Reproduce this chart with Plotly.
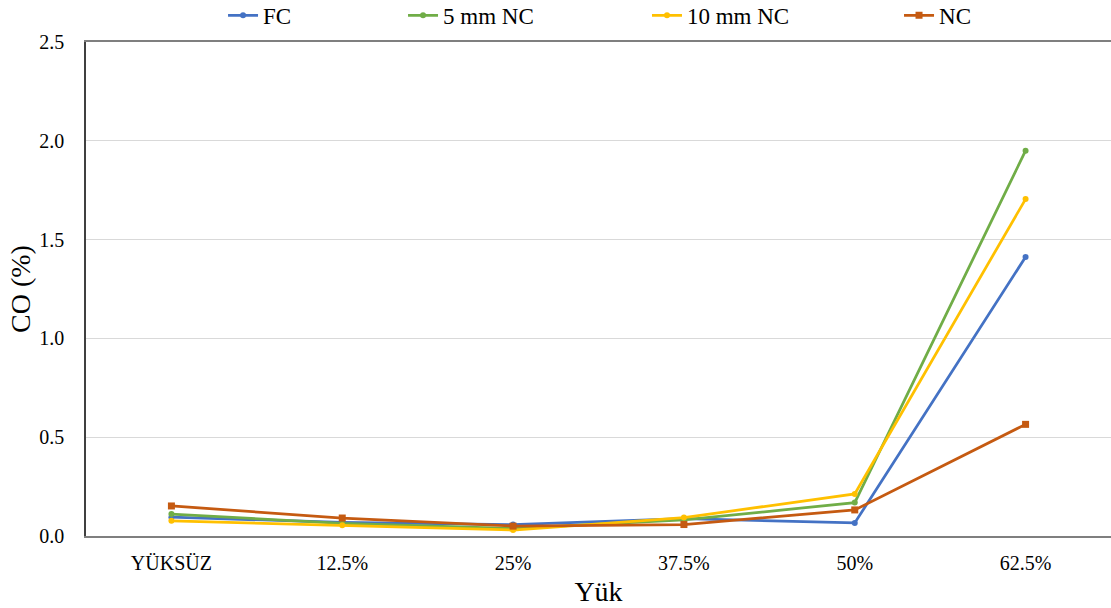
import plotly.graph_objects as go

categories = ["YÜKSÜZ", "12.5%", "25%", "37.5%", "50%", "62.5%"]
fc = [0.095, 0.069, 0.058, 0.088, 0.066, 1.412]
nc5 = [0.111, 0.064, 0.038, 0.081, 0.169, 1.950]
nc10 = [0.077, 0.054, 0.030, 0.093, 0.213, 1.705]
nc = [0.152, 0.091, 0.050, 0.058, 0.132, 0.565]

series = [
    ("FC", fc, "#4472C4", "circle", 6, "legend"),
    ("5 mm NC", nc5, "#70AD47", "circle", 6, "legend2"),
    ("10 mm NC", nc10, "#FFC000", "circle", 6, "legend3"),
    ("NC", nc, "#C55A11", "square", 7, "legend4"),
]

FONT = "Liberation Serif"

fig = go.Figure()
for name, vals, color, sym, msize, lg in series:
    fig.add_trace(go.Scatter(
        x=categories, y=vals, name=name, mode="lines+markers",
        line=dict(color=color, width=2.75),
        marker=dict(symbol=sym, size=msize, color=color),
        legend=lg, showlegend=True,
    ))


def leg(x):
    return dict(orientation="h", yanchor="middle", y=1.054, xanchor="left", x=x,
                font=dict(family=FONT, size=23, color="#000000"),
                bgcolor="rgba(0,0,0,0)", borderwidth=0, visible=True)


fig.update_layout(
    width=1111, height=608,
    margin=dict(l=86, r=0, t=42, b=72, autoexpand=False),
    paper_bgcolor="white", plot_bgcolor="white",
    font=dict(family=FONT, color="#000000"),
    showlegend=True,
    legend=leg(0.1337),
    legend2=leg(0.3093),
    legend3=leg(0.5473),
    legend4=leg(0.7932),
    xaxis=dict(
        type="category", range=[-0.5, 5.5],
        showline=True, linecolor="#7f7f7f", linewidth=2, mirror=True,
        showgrid=False, ticks="", ticklabelstandoff=8,
        tickfont=dict(family=FONT, size=20, color="#000000"),
        title=dict(text="Yük", font=dict(family=FONT, size=28, color="#000000"), standoff=8),
    ),
    yaxis=dict(
        range=[0, 2.5], dtick=0.5, tickformat=".1f",
        showline=True, linecolor="#404040", linewidth=1.5,
        showgrid=True, gridcolor="#d9d9d9", gridwidth=1,
        zeroline=False, ticks="", ticklabelstandoff=16,
        tickfont=dict(family=FONT, size=20, color="#000000"),
        title=dict(text="CO (%)", font=dict(family=FONT, size=28, color="#000000"), standoff=0),
    ),
)

fig.write_html("out.html")
